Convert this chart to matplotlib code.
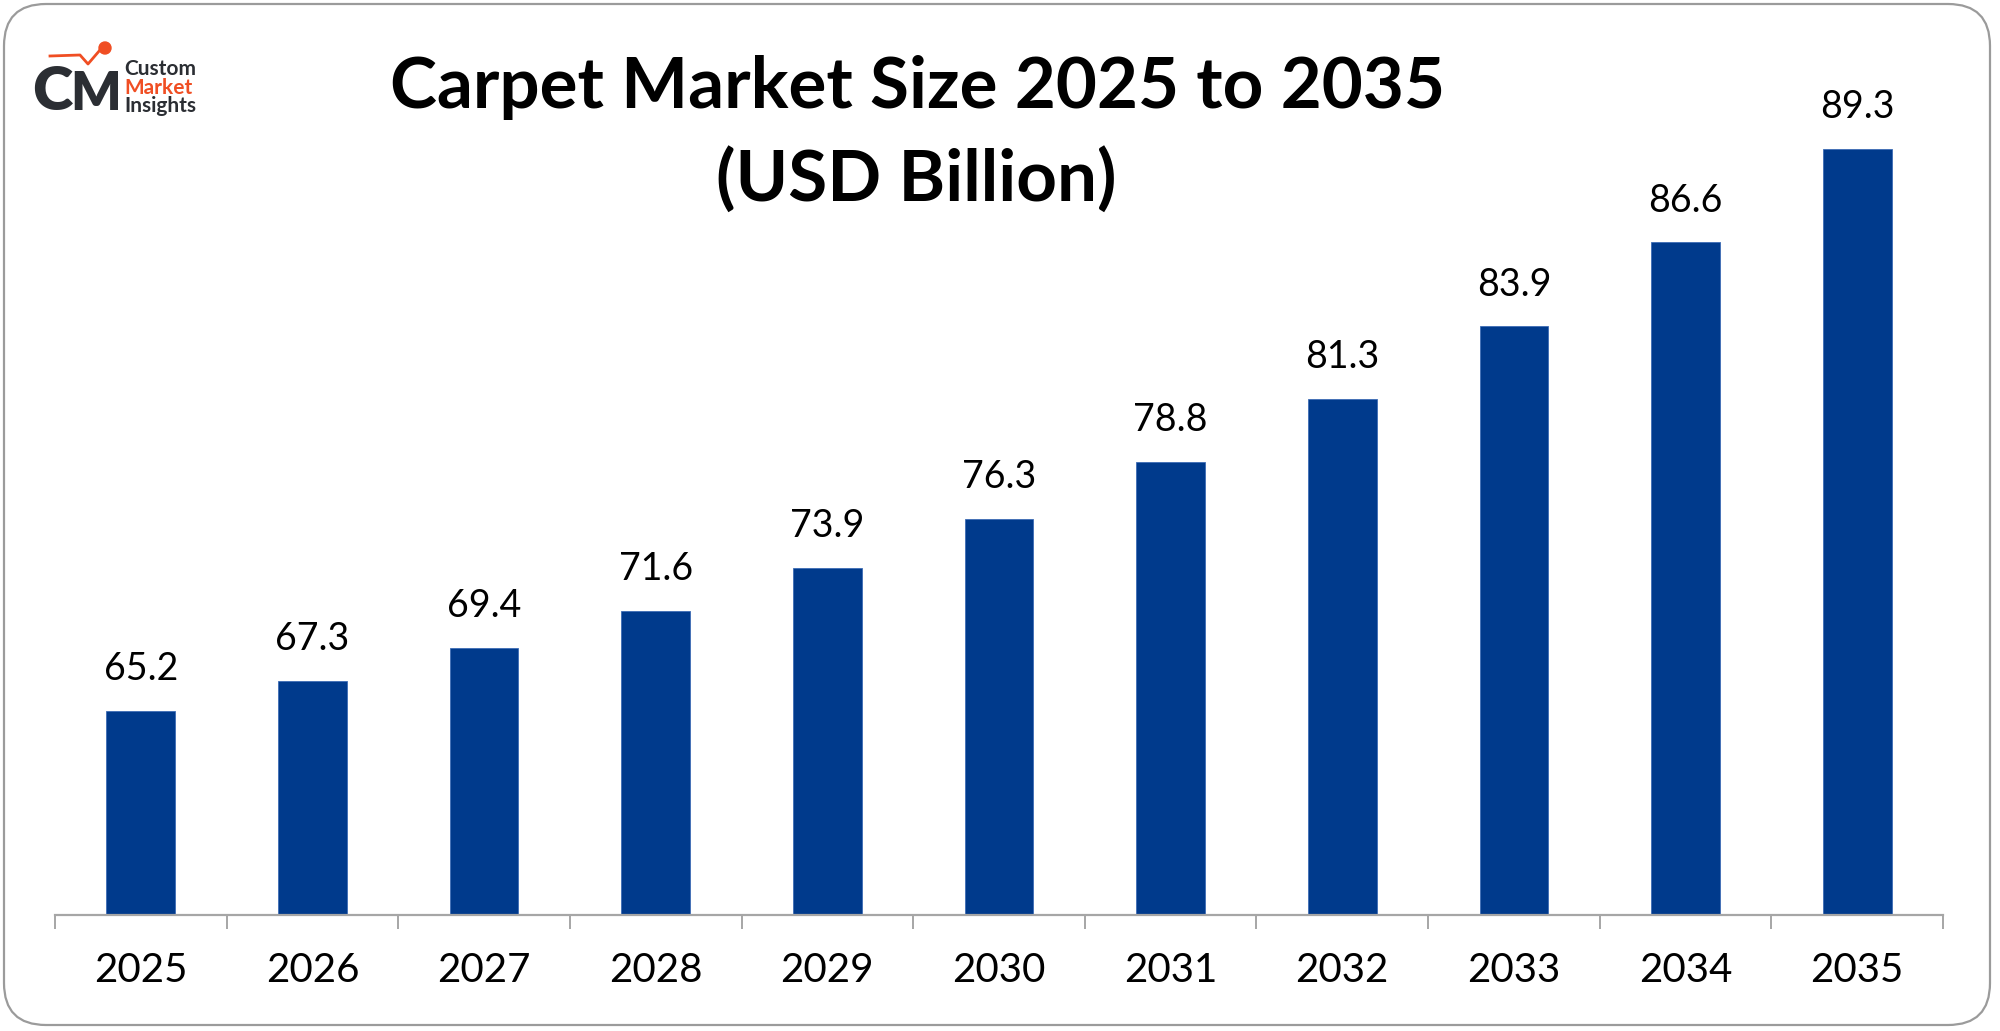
import numpy as np
import matplotlib
matplotlib.use('Agg')
import matplotlib.pyplot as plt
from matplotlib.patches import FancyBboxPatch, Circle
from matplotlib.lines import Line2D

years = ['2025', '2026', '2027', '2028', '2029', '2030', '2031', '2032', '2033', '2034', '2035']
market_size = [65.2, 67.3, 69.4, 71.6, 73.9, 76.3, 78.8, 81.3, 83.9, 86.6, 89.3]
value_labels = ['65.2', '67.3', '69.4', '71.6', '73.9', '76.3', '78.8', '81.3', '83.9', '86.6', '89.3']

W, H = 2000, 1031
plt.rcParams['font.family'] = ['Lato', 'DejaVu Sans']

fig = plt.figure(figsize=(W / 100, H / 100), dpi=100)
fig.patch.set_facecolor('white')

def fx(px):
    return px / W

def fy(py):
    return 1 - py / H

# rounded outer frame (inches, so the corners stay round)
frame = FancyBboxPatch((4 / 100, (H - 1025) / 100), 1986 / 100, 1021 / 100,
                       boxstyle='round,pad=0,rounding_size=0.42',
                       transform=fig.dpi_scale_trans, facecolor='none',
                       edgecolor='#9b9b9b', linewidth=1.6, zorder=-1)
fig.patches.append(frame)

# bars are growing faster than their labels -> exponential value scale
k = 0.041
ax = fig.add_axes([fx(55), 1 - 915 / H, fx(1943) - fx(55), (915 - 60) / H])
ax.set_yscale('function', functions=(lambda y: np.exp(k * y), lambda y: np.log(np.clip(y, 1e-9, None)) / k))
ax.set_ylim(42.04, 91.6)

x = np.arange(len(years))
ax.bar(x, market_size, width=0.40, color='#003A8C', edgecolor='#3d6cb5', linewidth=0.6, zorder=2)

for xi, v, lab in zip(x, market_size, value_labels):
    ax.annotate(lab, (xi, v), xytext=(0, 22), textcoords='offset points',
                ha='center', va='baseline', fontsize=27, color='black')

ax.set_xlim(-0.5, len(years) - 0.5)
ax.set_xticks(x)
ax.set_xticklabels(years, fontsize=29)
ax.set_xticks(np.arange(-0.5, len(years)), minor=True)
ax.tick_params(axis='x', which='major', length=0, pad=27)
ax.tick_params(axis='x', which='minor', length=10, width=1.4, color='#a6a6a6', direction='out')
ax.set_yticks([])
ax.yaxis.set_minor_locator(matplotlib.ticker.NullLocator())
for s in ['top', 'left', 'right']:
    ax.spines[s].set_visible(False)
ax.spines['bottom'].set_color('#a6a6a6')
ax.spines['bottom'].set_linewidth(1.6)
ax.patch.set_alpha(0)

# title
fig.text(fx(918), fy(108), 'Carpet Market Size 2025 to 2035', ha='center', va='baseline',
         fontsize=51, fontweight='bold', color='black')
fig.text(fx(916), fy(201), '(USD Billion)', ha='center', va='baseline',
         fontsize=51, fontweight='bold', color='black')

# logo
fig.text(fx(32), fy(110), 'C', ha='left', va='baseline', fontsize=44, fontweight='heavy', color='#2b2e33')
fig.text(fx(70), fy(110), 'M', ha='left', va='baseline', fontsize=38, fontweight='heavy', color='#2b2e33')
fig.add_artist(Line2D([fx(50), fx(80), fx(88), fx(100)], [fy(56), fy(55), fy(64), fy(50)],
                      transform=fig.transFigure, color='#f04e23', lw=2))
fig.add_artist(Circle((105 / 100, (H - 48) / 100), 0.06, transform=fig.dpi_scale_trans,
                      color='#f04e23'))
fig.text(fx(124), fy(75), 'Custom', ha='left', va='baseline', fontsize=15, fontweight='bold', color='#2b2e33')
fig.text(fx(124), fy(94), 'Market', ha='left', va='baseline', fontsize=15, fontweight='bold', color='#f04e23')
fig.text(fx(124), fy(112), 'Insights', ha='left', va='baseline', fontsize=15, fontweight='bold', color='#2b2e33')

fig.savefig('out.png', dpi=100, facecolor='white')
